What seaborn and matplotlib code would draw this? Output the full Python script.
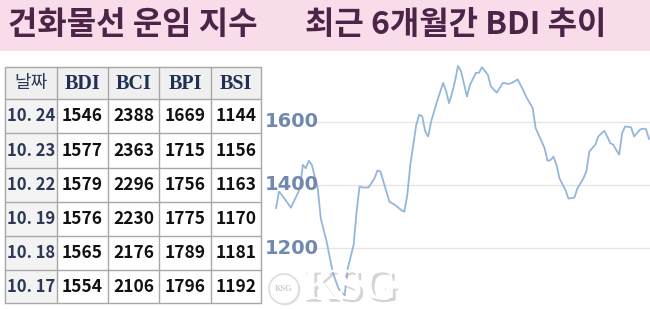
import matplotlib
matplotlib.use("Agg")
import matplotlib.pyplot as plt
import matplotlib.patches as mpatches
import matplotlib.patheffects as pe
import seaborn as sns
import pandas as pd

# ---------------- data ----------------
title_left = "건화물선 운임 지수"
title_right = "최근 6개월간 BDI 추이"

table_header = ["날짜", "BDI", "BCI", "BPI", "BSI"]
dates = ["10. 24", "10. 23", "10. 22", "10. 19", "10. 18", "10. 17"]
bdi_tab = [1546, 1577, 1579, 1576, 1565, 1554]
bci_tab = [2388, 2363, 2296, 2230, 2176, 2106]
bpi_tab = [1669, 1715, 1756, 1775, 1789, 1796]
bsi_tab = [1144, 1156, 1163, 1170, 1181, 1192]

days = [0, 1, 2, 5, 7, 8, 9, 10, 11, 12, 14, 15, 17, 19, 21, 23, 24, 26, 27, 28,
        29, 31, 33, 34, 35, 36, 38, 40, 42, 43, 44, 45, 47, 48, 49, 50, 51, 52, 54, 56,
        57, 58, 59, 60, 61, 62, 64, 65, 67, 68, 69, 71, 72, 74, 76, 78, 79, 81, 83, 84,
        86, 87, 88, 90, 91, 92, 93, 94, 95, 97, 98, 100, 101, 103, 104, 105, 107, 108, 110, 111,
        112, 113, 115, 116, 117, 119, 120, 121, 122, 123, 124, 125]
bdi = [1326, 1379, 1368, 1328, 1368, 1389, 1464, 1453, 1477, 1464, 1389, 1294, 1219, 1123, 1070, 1049, 1134, 1209, 1315, 1395,
       1392, 1392, 1421, 1446, 1443, 1411, 1347, 1336, 1320, 1315, 1368, 1464, 1591, 1623, 1618, 1570, 1554, 1602, 1666, 1724,
       1698, 1660, 1692, 1730, 1778, 1761, 1681, 1718, 1756, 1756, 1774, 1750, 1713, 1693, 1724, 1721, 1724, 1735, 1698, 1677,
       1645, 1581, 1560, 1517, 1477, 1479, 1490, 1464, 1421, 1384, 1357, 1360, 1389, 1421, 1443, 1506, 1528, 1554, 1572, 1554,
       1533, 1528, 1496, 1565, 1586, 1583, 1554, 1565, 1576, 1579, 1577, 1546]
yticks = [1200, 1400, 1600]
watermark = "KSG"

# ---------------- style ----------------
sns.set_theme(style="white")
KR = ["Noto Sans CJK KR", "DejaVu Sans"]
plt.rcParams["font.family"] = KR

W, H = 650, 309
fig = plt.figure(figsize=(W / 100, H / 100), dpi=100)
fig.patch.set_facecolor("white")

# ---------------- line chart ----------------
ax_l, ax_r, ax_t, ax_b = 262, 650, 51, 309
ax = fig.add_axes([ax_l / W, 1 - ax_b / H, (ax_r - ax_l) / W, (ax_b - ax_t) / H])
ax.set_facecolor("white")
df = pd.DataFrame({"day": days, "BDI": bdi})
sns.lineplot(data=df, x="day", y="BDI", ax=ax, color="#93b7da", linewidth=1.3, zorder=3)
px_per_day = (649 - 276) / (days[-1] - days[0])
ax.set_xlim(days[0] - (276 - ax_l) / px_per_day, days[-1] + (ax_r - 649) / px_per_day)
px_per_unit = 63 / 200
ax.set_ylim(1600 - (ax_b - 122) / px_per_unit, 1600 + (122 - ax_t) / px_per_unit)
grid_start = days[0] + (316 - 276) / px_per_day
ax.hlines(yticks, grid_start, ax.get_xlim()[1], color="#e6e6e6", linewidth=1.0, zorder=1)
for v in yticks:
    ax.text((265 - ax_l) / (ax_r - ax_l), v, str(v), transform=ax.get_yaxis_transform(),
            ha="left", va="center", fontsize=14, fontweight="bold", family=["DejaVu Sans"],
            color="#7189b0", zorder=4)
ax.set_xticks([])
ax.set_yticks([])
ax.set_xlabel("")
ax.set_ylabel("")
for s in ax.spines.values():
    s.set_visible(False)

# ---------------- overlay (banner, table, watermark) ----------------
ov = fig.add_axes([0, 0, 1, 1], zorder=5)
ov.set_xlim(0, W)
ov.set_ylim(H, 0)
ov.axis("off")
ov.patch.set_alpha(0)

ov.add_patch(mpatches.Rectangle((0, 0), W, 51, facecolor="#f9dce9", edgecolor="none"))
ov.text(8, 25, title_left, ha="left", va="center", fontsize=23, fontweight="black",
        color="#4b2447", family=KR)
ov.text(305, 25, title_right, ha="left", va="center", fontsize=23, fontweight="black",
        color="#4b2447", family=KR)

col_x = [5, 57, 108, 159, 211, 261]
row_y = [67, 99, 133, 168, 202, 236, 270, 303]
gray_bg = "#f0f0f0"
border = "#a8a8a8"
ov.add_patch(mpatches.Rectangle((col_x[0], row_y[0]), col_x[-1] - col_x[0], row_y[1] - row_y[0],
                                facecolor=gray_bg, edgecolor="none"))
ov.add_patch(mpatches.Rectangle((col_x[0], row_y[1]), col_x[1] - col_x[0], row_y[-1] - row_y[1],
                                facecolor="#f3f3f3", edgecolor="none"))
for x in col_x:
    ov.plot([x, x], [row_y[0], row_y[-1]], color=border, lw=1.0)
for y in row_y:
    ov.plot([col_x[0], col_x[-1]], [y, y], color=border, lw=1.0)

def cx(i):
    return (col_x[i] + col_x[i + 1]) / 2

def cy(j):
    return (row_y[j] + row_y[j + 1]) / 2

for i, h in enumerate(table_header):
    if i == 0:
        ov.text(cx(i), cy(0), h, ha="center", va="center", fontsize=13, color="#2b3856", family=KR)
    else:
        ov.text(cx(i), cy(0) + 1, h, ha="center", va="center", fontsize=14.5, fontweight="bold",
                color="#1f2f55", family=["Liberation Serif", "DejaVu Serif"])

cols = [bdi_tab, bci_tab, bpi_tab, bsi_tab]
for j, d in enumerate(dates):
    ov.text(cx(0), cy(j + 1), d, ha="center", va="center", fontsize=12, fontweight="bold",
            color="#2b3856", family=KR)
    for i, c in enumerate(cols):
        ov.text(cx(i + 1), cy(j + 1), str(c[j]), ha="center", va="center", fontsize=12.5,
                fontweight="bold", color="#111111", family=KR)

# watermark
ov.add_patch(mpatches.Circle((284, 289), 15, facecolor="white", edgecolor="#dddddd", lw=1.2,
                             path_effects=[pe.withSimplePatchShadow(offset=(1, -1), shadow_rgbFace="#cccccc", alpha=0.5)]))
ov.text(284, 289, watermark, ha="center", va="center", fontsize=6, color="#cccccc",
        family=["Liberation Serif", "DejaVu Serif"], fontweight="bold")
ov.text(350, 288, watermark, ha="center", va="center", fontsize=32, fontweight="bold", color="white",
        family=["Liberation Serif", "DejaVu Serif"],
        path_effects=[pe.withSimplePatchShadow(offset=(2, -2), shadow_rgbFace="#aaaaaa", alpha=0.5)])

fig.savefig("out.png", dpi=100, facecolor="white")
